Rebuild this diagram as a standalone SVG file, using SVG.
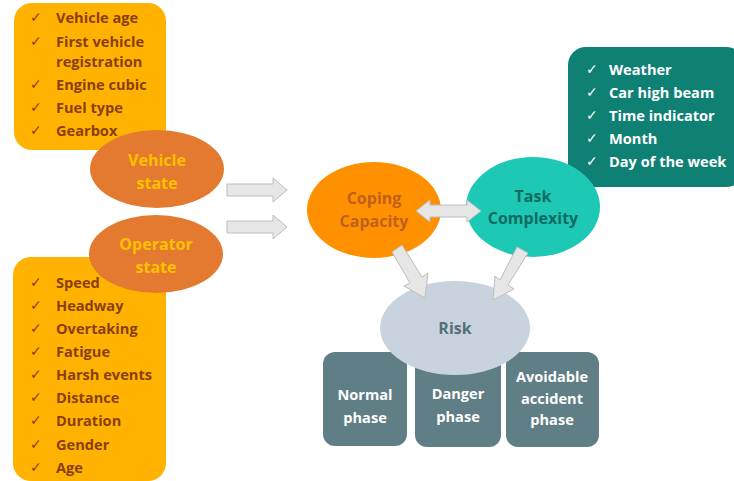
<svg xmlns="http://www.w3.org/2000/svg" width="734" height="481" viewBox="0 0 734 481">
<style>
.t{font-family:"Open Sans","Noto Sans","Liberation Sans",sans-serif;font-weight:bold;font-size:14.6px}
.e{font-size:16px}
.ck{font-family:"DejaVu Sans",sans-serif;font-size:14px}
.br{fill:#8A3E0C}
.wh{fill:#FFFFFF}
.c{text-anchor:middle}
.arr{fill:#E6E6E6;stroke:#BDBDBD;stroke-width:1}
</style>
<rect width="734" height="481" fill="#FFFFFF"/>
<g id="vehicle-list">
<rect x="14" y="3" width="152" height="147" rx="18" fill="#FFB300"/>
<g class="br">
<text class="ck" x="30" y="22">✓</text><text class="t" x="56" y="23">Vehicle age</text>
<text class="ck" x="30" y="46">✓</text><text class="t" x="56" y="47">First vehicle</text>
<text class="t" x="56" y="67">registration</text>
<text class="ck" x="30" y="89">✓</text><text class="t" x="56" y="90">Engine cubic</text>
<text class="ck" x="30" y="112">✓</text><text class="t" x="56" y="113">Fuel type</text>
<text class="ck" x="30" y="135">✓</text><text class="t" x="56" y="136">Gearbox</text>
</g>
</g>
<g id="operator-list">
<rect x="13" y="257" width="153" height="224" rx="18" fill="#FFB300"/>
<g class="br">
<text class="ck" x="30" y="287">✓</text><text class="t" x="56" y="288">Speed</text>
<text class="ck" x="30" y="310">✓</text><text class="t" x="56" y="311">Headway</text>
<text class="ck" x="30" y="333">✓</text><text class="t" x="56" y="334">Overtaking</text>
<text class="ck" x="30" y="356">✓</text><text class="t" x="56" y="357">Fatigue</text>
<text class="ck" x="30" y="379">✓</text><text class="t" x="56" y="380">Harsh events</text>
<text class="ck" x="30" y="402">✓</text><text class="t" x="56" y="403">Distance</text>
<text class="ck" x="30" y="425">✓</text><text class="t" x="56" y="426">Duration</text>
<text class="ck" x="30" y="449">✓</text><text class="t" x="56" y="450">Gender</text>
<text class="ck" x="30" y="472">✓</text><text class="t" x="56" y="473">Age</text>
</g>
</g>
<g id="vehicle-state">
<ellipse cx="157" cy="169" rx="67" ry="39" fill="#E47A30"/>
<text class="t e c" x="157" y="166" fill="#FFC000">Vehicle</text>
<text class="t e c" x="157" y="189" fill="#FFC000">state</text>
</g>
<g id="operator-state">
<ellipse cx="156" cy="254" rx="67" ry="39" fill="#E47A30"/>
<text class="t e c" x="156" y="250" fill="#FFC000">Operator</text>
<text class="t e c" x="156" y="273" fill="#FFC000">state</text>
</g>
<g id="environment-list">
<rect x="568" y="47" width="176" height="140" rx="18" fill="#0E8074"/>
<g class="wh">
<text class="ck" x="586" y="74">✓</text><text class="t" x="609" y="75">Weather</text>
<text class="ck" x="586" y="97">✓</text><text class="t" x="609" y="98">Car high beam</text>
<text class="ck" x="586" y="120">✓</text><text class="t" x="609" y="121">Time indicator</text>
<text class="ck" x="586" y="143">✓</text><text class="t" x="609" y="144">Month</text>
<text class="ck" x="586" y="166">✓</text><text class="t" x="609" y="167">Day of the week</text>
</g>
</g>
<g id="coping-capacity">
<ellipse cx="374" cy="210" rx="67" ry="48" fill="#FF9100"/>
<text class="t e c" x="374" y="204" fill="#C0601A">Coping</text>
<text class="t e c" x="374" y="227" fill="#C0601A">Capacity</text>
</g>
<g id="task-complexity">
<ellipse cx="533" cy="207" rx="67" ry="50" fill="#1DC8B5"/>
<text class="t e c" x="533" y="202" fill="#0E6B60">Task</text>
<text class="t e c" x="533" y="224" fill="#0E6B60">Complexity</text>
</g>
<g id="normal-phase">
<rect x="323" y="352" width="84" height="94" rx="12" fill="#5F7E85"/>
<text class="t c wh" x="365" y="400">Normal</text>
<text class="t c wh" x="365" y="423">phase</text>
</g>
<g id="danger-phase">
<rect x="415" y="352" width="86" height="95" rx="12" fill="#5F7E85"/>
<text class="t c wh" x="458" y="399">Danger</text>
<text class="t c wh" x="458" y="422">phase</text>
</g>
<g id="avoidable-phase">
<rect x="506" y="352" width="93" height="95" rx="12" fill="#5F7E85"/>
<text class="t c wh" x="552" y="382">Avoidable</text>
<text class="t c wh" x="552" y="404">accident</text>
<text class="t c wh" x="552" y="425">phase</text>
</g>
<g id="risk">
<ellipse cx="455" cy="328" rx="75" ry="47" fill="#C8D3DE"/>
<text class="t e c" x="455" y="334" fill="#56707A">Risk</text>
</g>
<g id="connectors">
<polygon class="arr" points="227,184 273,184 273,178 287,190 273,202 273,196 227,196"/>
<polygon class="arr" points="227,221 273,221 273,215 287,227 273,239 273,233 227,233"/>
<polygon class="arr" points="416,211 430,200 430,205 467,205 467,200 481,211 467,222 467,217 430,217 430,222"/>
<polygon class="arr" points="392,252 402,245 422,277 428,273 425,298 404,286 410,283"/>
<polygon class="arr" points="517,247 528,253 508,285 514,289 493,300 495,276 500,280"/>
</g>
</svg>
